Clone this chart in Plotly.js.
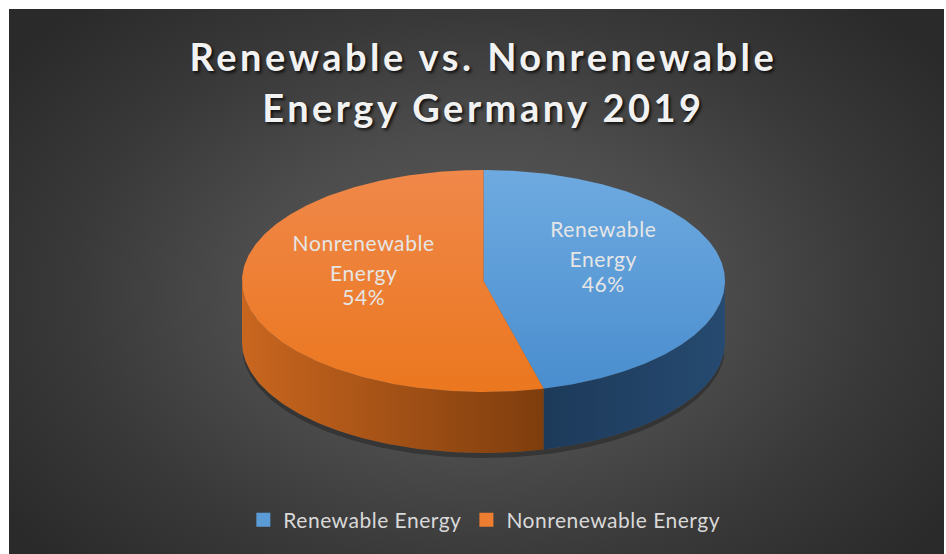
<!DOCTYPE html>
<html><head><meta charset="utf-8">
<script src="https://cdn.plot.ly/plotly-3.0.1.min.js"></script>
<style>
html,body{margin:0;padding:0;background:#ffffff;}
#wrap{position:relative;width:946px;height:554px;overflow:hidden;}
#bg{position:absolute;left:9px;top:9px;width:935px;height:545px;
  background:radial-gradient(ellipse 62% 72% at 50% 52%, #5c5c5c 0%, #4c4c4c 40%, #393939 70%, #2a2a2a 100%);}
#chart{position:absolute;left:0;top:0;width:946px;height:554px;}
.g-gtitle text{letter-spacing:3.5px;}
.textpoint text{letter-spacing:0.6px;}
.legendtext{letter-spacing:0.5px;}
</style></head><body>
<div id="wrap"><div id="bg"></div><div id="chart"></div></div>
<script>
// ---- data ----
const categories = ['Renewable Energy', 'Nonrenewable Energy'];
const shareValues = [46, 54];
const labelLines = [['Renewable', 'Energy'], ['Nonrenewable', 'Energy']];
const titleLines = ['Renewable vs. Nonrenewable', 'Energy Germany 2019'];

// ---- style ----
const baseColors = ['#5b9bd5', '#ed7d31'];
const topGrad = [['#4a8ecf', '#6eaae0'], ['#eb771f', '#f0884a']];
const sideGrad = [['#1d3a5a', '#264a70'], ['#c9661f', '#7e3d0d']];
const W = 946, H = 554;
const cx = 483.5, cy = 281, rx = 241.5, ry = 111, depth = 61;
const labelR = 0.5, labelLift = -15;

function pt(deg, dy) {
  const t = deg * Math.PI / 180;
  return [cx + rx * Math.sin(t), cy - ry * Math.cos(t) + dy];
}
function arc(a0, a1, dy, n) {
  const xs = [], ys = [];
  for (let i = 0; i <= n; i++) {
    const p = pt(a0 + (a1 - a0) * i / n, dy);
    xs.push(p[0]); ys.push(p[1]);
  }
  return [xs, ys];
}

const total = shareValues.reduce((a, b) => a + b, 0);
const traces = [];
// soft shadow under the front rim
{
  const [sx, sy] = arc(95, 265, depth, 120);
  const [bx, by] = arc(265, 95, depth + 5, 120);
  traces.push({type: 'scatter', mode: 'lines', x: sx.concat(bx), y: sy.concat(by),
    fill: 'toself', fillcolor: 'rgba(0,0,0,0.28)', line: {width: 0},
    hoverinfo: 'skip', showlegend: false});
}
const tops = [];
const labX = [], labY = [], labT = [];
let start = 0;
shareValues.forEach((v, i) => {
  const a0 = start, a1 = start + 360 * v / total;
  start = a1;
  const s = Math.max(a0, 90), e = Math.min(a1, 270);
  if (s < e) {
    const [tx, ty] = arc(s, e, 0, 120);
    const [bx, by] = arc(e, s, depth, 120);
    traces.push({
      type: 'scatter', mode: 'lines', x: tx.concat(bx), y: ty.concat(by),
      fill: 'toself', line: {width: 0, color: sideGrad[i][0]},
      fillgradient: {type: 'horizontal', colorscale: [[0, sideGrad[i][0]], [1, sideGrad[i][1]]]},
      hoverinfo: 'skip', showlegend: false
    });
  }
  const [ax, ay] = arc(a0, a1, 0, 240);
  tops.push({
    type: 'scatter', mode: 'lines', name: categories[i],
    x: [cx].concat(ax, [cx]), y: [cy].concat(ay, [cy]),
    fill: 'toself', line: {width: 0, color: baseColors[i]},
    fillgradient: {type: 'vertical', colorscale: [[0, topGrad[i][0]], [1, topGrad[i][1]]]},
    hoveron: 'fills', text: categories[i] + ': ' + v + '%', hoverinfo: 'text',
    showlegend: false
  });
  const mid = (a0 + a1) / 2;
  const t = mid * Math.PI / 180;
  labX.push(cx + labelR * rx * Math.sin(t));
  labY.push(cy - labelR * ry * Math.cos(t) + labelLift);
  labT.push(labelLines[i].join('<br>') + '<br>' + Math.round(100 * v / total) + '%');
});

traces.push(...tops);
traces.push({
  type: 'scatter', mode: 'text', x: labX, y: labY, text: labT,
  textposition: 'middle center',
  textfont: {family: 'Lato, sans-serif', size: 21, color: '#e6e6e6'},
  hoverinfo: 'skip', showlegend: false
});
categories.forEach((c, i) => {
  traces.push({
    type: 'scatter', mode: 'markers', x: [null], y: [null], name: c,
    marker: {symbol: 'square', size: 14, color: baseColors[i]},
    showlegend: true, hoverinfo: 'skip'
  });
});

const layout = {
  width: W, height: H,
  margin: {l: 0, r: 0, t: 0, b: 0},
  paper_bgcolor: 'rgba(0,0,0,0)', plot_bgcolor: 'rgba(0,0,0,0)',
  xaxis: {range: [0, W], visible: false, fixedrange: true},
  yaxis: {range: [H, 0], visible: false, fixedrange: true},
  title: {
    text: titleLines.join('<br>'),
    font: {family: 'Lato, sans-serif', size: 38, weight: 'bold', color: '#f2f2f2', shadow: '2px 2px 3px rgba(0,0,0,0.75)'},
    x: 0.511, xanchor: 'center', xref: 'paper',
    y: 0.872, yanchor: 'top', yref: 'container'
  },
  showlegend: true,
  legend: {
    orientation: 'h', x: 0.512, xanchor: 'center', y: 0.061, yanchor: 'middle',
    font: {family: 'Lato, sans-serif', size: 21, color: '#d9d9d9'},
    bgcolor: 'rgba(0,0,0,0)', itemwidth: 30
  },
  hovermode: 'closest'
};

function tweak(gd) {
  gd.querySelectorAll('.g-gtitle tspan.line').forEach(t => {
    if (t.getAttribute('dy') === '1.3em') t.setAttribute('dy', '1.34em');
  });
  gd.querySelectorAll('.textpoint tspan.line').forEach(t => {
    if (t.getAttribute('dy') === '1.3em') t.setAttribute('dy', '1.42em');
  });
}
const gd = document.getElementById('chart');
Plotly.newPlot(gd, traces, layout, {displayModeBar: false}).then(() => {
  tweak(gd);
  gd.on('plotly_afterplot', () => tweak(gd));
});
</script>
</body></html>
